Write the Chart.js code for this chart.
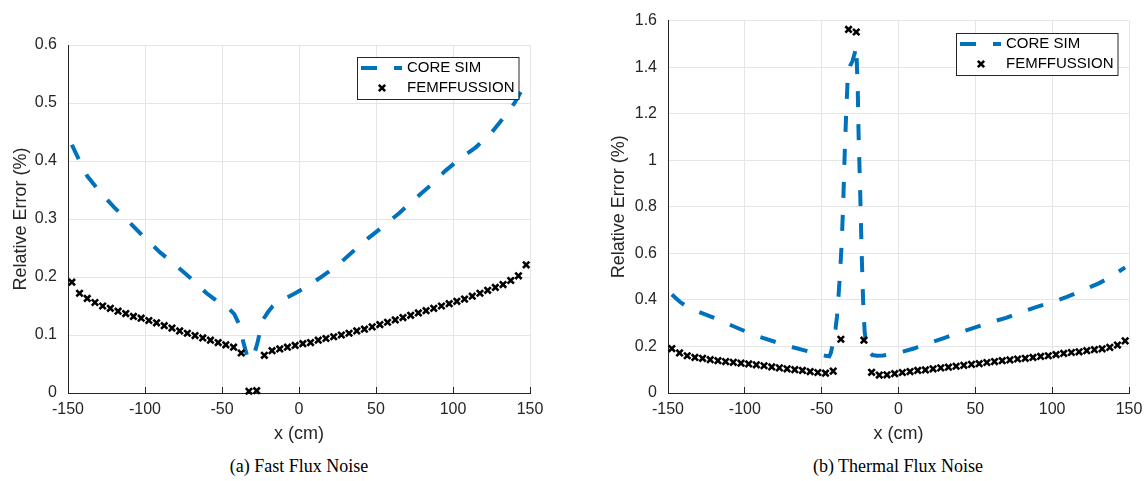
<!DOCTYPE html>
<html lang="en">
    <head>
        <meta charset="UTF-8" />
        <title>Relative error along x: fast and thermal flux noise</title>
        <script src="https://cdn.jsdelivr.net/npm/chart.js@4"></script>
        <style>
            body { margin: 0; background: #fff; }
            #wrap { position: relative; width: 1145px; height: 481px; }
            .panel { position: absolute; top: 0; }
            .caption {
                position: absolute;
                top: 456px;
                width: 300px;
                text-align: center;
                font: 18px "Liberation Serif", serif;
                color: #000;
            }
        </style>
    </head>
    <body>
        <div id="wrap">
            <div class="panel" style="left: 0; width: 572px; height: 450px">
                <canvas id="fastChart"></canvas>
            </div>
            <div class="panel" style="left: 590px; width: 555px; height: 450px">
                <canvas id="thermalChart"></canvas>
            </div>
            <div class="caption" style="left: 149px">(a) Fast Flux Noise</div>
            <div class="caption" style="left: 748px">(b) Thermal Flux Noise</div>
        </div>

        <script>
            // cell centres where FEMFFUSSION is sampled (cm)
            const cellX = [
                -147.5, -142.5, -137.5, -132.5, -127.5, -122.5, -117.5, -112.5, -107.5, -102.5,
                -97.5, -92.5, -87.5, -82.5, -77.5, -72.5, -67.5, -62.5, -57.5, -52.5,
                -47.5, -42.5, -37.5, -32.5, -27.5, -22.5, -17.5, -12.5, -7.5, -2.5,
                2.5, 7.5, 12.5, 17.5, 22.5, 27.5, 32.5, 37.5, 42.5, 47.5,
                52.5, 57.5, 62.5, 67.5, 72.5, 77.5, 82.5, 87.5, 92.5, 97.5,
                102.5, 107.5, 112.5, 117.5, 122.5, 127.5, 132.5, 137.5, 142.5, 147.5,
            ];

            // relative error (%), fast group
            const femFast = [
                0.191, 0.172, 0.163, 0.156, 0.150, 0.146, 0.141, 0.137, 0.132, 0.129,
                0.125, 0.121, 0.116, 0.112, 0.107, 0.103, 0.099, 0.095, 0.091, 0.087,
                0.083, 0.079, 0.069, 0.003, 0.004, 0.065, 0.073, 0.076, 0.079, 0.082,
                0.085, 0.087, 0.091, 0.094, 0.097, 0.100, 0.103, 0.107, 0.110, 0.114,
                0.118, 0.122, 0.126, 0.130, 0.134, 0.138, 0.142, 0.146, 0.150, 0.154,
                0.158, 0.162, 0.167, 0.172, 0.177, 0.182, 0.187, 0.194, 0.202, 0.221,
            ];
            const coreFastX = [
                -147.5, -142.5, -137.5, -130, -120, -110, -100, -90, -80, -70,
                -60, -50, -45, -42, -39, -36, -33.5, -31.5, -29, -27,
                -25, -23, -20, -17, -12.5, -7.5, -2.5, 5, 15, 25,
                35, 45, 55, 65, 75, 85, 95, 105, 115, 125,
                135, 140, 145, 147.5,
            ];
            const coreFast = [
                0.428, 0.400, 0.374, 0.349, 0.320, 0.294, 0.267, 0.242, 0.220, 0.197,
                0.172, 0.152, 0.144, 0.136, 0.119, 0.086, 0.062, 0.057, 0.068, 0.086,
                0.110, 0.128, 0.140, 0.150, 0.158, 0.165, 0.172, 0.183, 0.201, 0.220,
                0.244, 0.267, 0.288, 0.310, 0.334, 0.357, 0.383, 0.405, 0.424, 0.449,
                0.482, 0.500, 0.524, 0.535,
            ];

            // relative error (%), thermal group
            const femThermal = [
                0.191, 0.172, 0.160, 0.153, 0.149, 0.143, 0.139, 0.135, 0.132, 0.128,
                0.125, 0.121, 0.117, 0.112, 0.108, 0.104, 0.100, 0.097, 0.092, 0.088,
                0.085, 0.094, 0.231, 1.562, 1.551, 0.227, 0.089, 0.077, 0.078, 0.083,
                0.088, 0.092, 0.097, 0.099, 0.104, 0.108, 0.111, 0.115, 0.119, 0.123,
                0.126, 0.131, 0.135, 0.139, 0.142, 0.146, 0.149, 0.153, 0.157, 0.160,
                0.165, 0.170, 0.174, 0.177, 0.182, 0.186, 0.190, 0.196, 0.206, 0.224,
            ];
            const coreThermalX = [
                -147.5, -142.5, -137.5, -130, -120, -110, -100, -90, -80, -70,
                -60, -52, -47.5, -45, -44, -42.5, -41, -40, -39, -38,
                -37, -36, -35, -34, -33, -31.5, -30, -28.5, -27.5, -26.5,
                -26, -25, -24, -23, -22, -20.5, -19, -17, -14, -10,
                -5, 0, 10, 20, 30, 40, 50, 60, 70, 80,
                90, 100, 110, 120, 130, 137.5, 142.5, 147.5,
            ];
            const coreThermal = [
                0.423, 0.393, 0.370, 0.348, 0.323, 0.294, 0.266, 0.240, 0.219, 0.199,
                0.181, 0.167, 0.160, 0.158, 0.172, 0.220, 0.275, 0.330, 0.420, 0.520,
                0.640, 0.810, 1.030, 1.210, 1.360, 1.405, 1.425, 1.460, 1.490, 1.300,
                1.120, 0.880, 0.610, 0.390, 0.260, 0.195, 0.175, 0.163, 0.160, 0.161,
                0.167, 0.173, 0.191, 0.215, 0.237, 0.260, 0.282, 0.304, 0.323, 0.348,
                0.370, 0.390, 0.414, 0.442, 0.470, 0.496, 0.518, 0.540,
            ];

            const xRange = { min: -150, max: 150, step: 50 };
            const fastYRange = { min: 0, max: 0.6, step: 0.1 };
            const thermalYRange = { min: 0, max: 1.6, step: 0.2 };

            const AXIS = "#262626";
            const GRID = "#e5e5e5";
            const BLUE = "#0072bd";
            const SANS = '"Liberation Sans", Arial, sans-serif';

            const toPoints = (xs, ys) => xs.map((x, i) => ({ x: x, y: ys[i] }));

            // legend box drawn inside the top-right corner of the plot area
            const insetLegend = {
                id: "insetLegend",
                afterDraw(chart, args, opts) {
                    const { ctx, chartArea } = chart;
                    const sets = chart.data.datasets;
                    ctx.save();
                    ctx.font = "15px " + SANS;
                    const textW = Math.max(...sets.map((d) => ctx.measureText(d.label).width));
                    const w = 50 + textW + 4;
                    const h = 20 * sets.length + 2;
                    const x0 = Math.round(chartArea.right - 12 - w);
                    const y0 = Math.round(chartArea.top + 12);
                    ctx.fillStyle = "#fff";
                    ctx.fillRect(x0, y0, w, h);
                    ctx.strokeStyle = AXIS;
                    ctx.lineWidth = 1;
                    ctx.strokeRect(x0 + 0.5, y0 + 0.5, w, h);
                    sets.forEach((d, i) => {
                        const cy = y0 + 1 + 20 * (i + 0.5);
                        if (d.showLine !== false) {
                            ctx.save();
                            ctx.strokeStyle = d.borderColor;
                            ctx.lineWidth = d.borderWidth;
                            ctx.setLineDash(d.borderDash || []);
                            ctx.beginPath();
                            ctx.moveTo(x0 + 4, cy);
                            ctx.lineTo(x0 + 45, cy);
                            ctx.stroke();
                            ctx.restore();
                        } else {
                            ctx.save();
                            ctx.strokeStyle = d.borderColor;
                            ctx.lineWidth = d.pointBorderWidth;
                            Chart.helpers.drawPoint(ctx, { pointStyle: d.pointStyle, radius: d.pointRadius, rotation: 0, borderWidth: d.pointBorderWidth }, x0 + 25, cy);
                            ctx.restore();
                        }
                        ctx.fillStyle = "#000";
                        ctx.textBaseline = "middle";
                        ctx.textAlign = "left";
                        ctx.fillText(d.label, x0 + 50, cy);
                    });
                    ctx.restore();
                },
            };

            function makeChart(id, core, fem, yRange, layout) {
                return new Chart(document.getElementById(id), {
                    type: "line",
                    data: {
                        datasets: [
                            {
                                label: "CORE SIM",
                                data: core,
                                borderColor: BLUE,
                                borderWidth: 4,
                                borderDash: [16, 17],
                                borderCapStyle: "butt",
                                pointRadius: 0,
                                tension: 0,
                                fill: false,
                                order: 2,
                            },
                            {
                                label: "FEMFFUSSION",
                                data: fem,
                                showLine: false,
                                borderColor: "#000",
                                backgroundColor: "#000",
                                pointStyle: "crossRot",
                                pointRadius: 4.5,
                                pointBorderWidth: 2.6,
                                clip: false,
                                order: 1,
                            },
                        ],
                    },
                    options: {
                        responsive: true,
                        maintainAspectRatio: false,
                        animation: false,
                        layout: { padding: layout.padding },
                        plugins: {
                            legend: { display: false },
                            tooltip: { enabled: false },
                        },
                        scales: {
                            x: {
                                type: "linear",
                                min: xRange.min,
                                max: xRange.max,
                                afterFit(scale) {
                                    // keep the plot edges where the layout padding puts them
                                    scale.height = 57;
                                    scale.paddingLeft = 0;
                                    scale.paddingRight = 0;
                                },
                                ticks: {
                                    stepSize: xRange.step,
                                    color: AXIS,
                                    font: { family: SANS, size: 16 },
                                    padding: 13,
                                    maxRotation: 0,
                                    callback: (v) => String(v),
                                },
                                grid: {
                                    color: GRID,
                                    tickColor: AXIS,
                                    tickLength: -6,
                                },
                                border: { color: AXIS, width: 1 },
                                title: {
                                    display: true,
                                    text: "x (cm)",
                                    color: AXIS,
                                    font: { family: SANS, size: 18, lineHeight: 1.2 },
                                    padding: { top: 0, bottom: 5 },
                                },
                            },
                            y: {
                                min: yRange.min,
                                max: yRange.max,
                                afterFit(scale) {
                                    scale.width = layout.yWidth;
                                },
                                ticks: {
                                    stepSize: yRange.step,
                                    color: AXIS,
                                    font: { family: SANS, size: 16 },
                                    padding: 11,
                                    callback: (v) => String(+v.toFixed(2)),
                                },
                                grid: { color: GRID, drawTicks: false },
                                border: { color: AXIS, width: 1 },
                                title: {
                                    display: true,
                                    text: "Relative Error (%)",
                                    color: AXIS,
                                    font: { family: SANS, size: 18, lineHeight: 1.2 },
                                    padding: { top: layout.titleGap, bottom: 0 },
                                },
                            },
                        },
                    },
                    plugins: [insetLegend],
                });
            }

            makeChart("fastChart", toPoints(coreFastX, coreFast), toPoints(cellX, femFast), fastYRange, {
                padding: { top: 45, right: 42, bottom: 0, left: 0 },
                yWidth: 68,
                titleGap: 10.5,
            });

            makeChart("thermalChart", toPoints(coreThermalX, coreThermal), toPoints(cellX, femThermal), thermalYRange, {
                padding: { top: 17, right: 16, bottom: 0, left: 0 },
                yWidth: 78,
                titleGap: 18.5,
            });
        </script>
    </body>
</html>
